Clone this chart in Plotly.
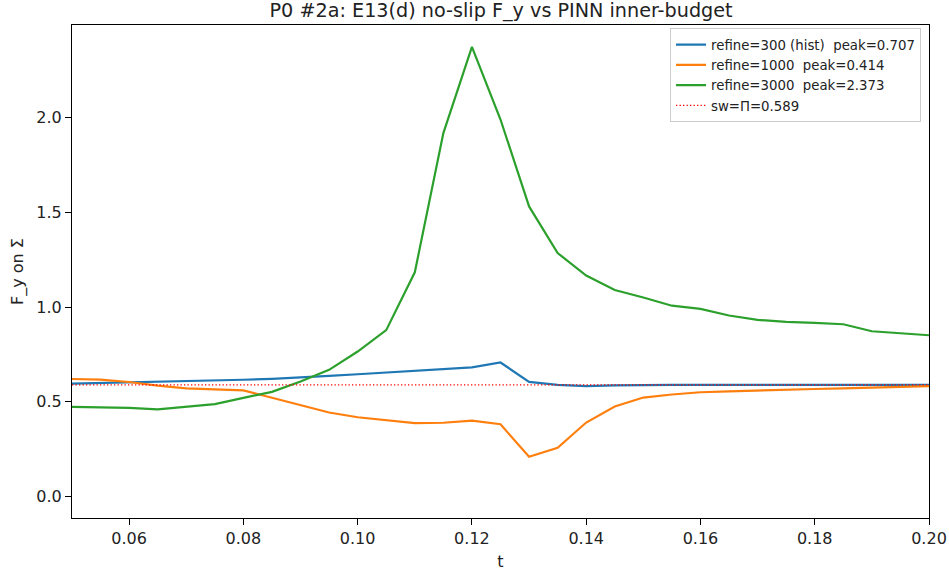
import plotly.graph_objects as go

# Time samples
t = [0.050, 0.055, 0.060, 0.065, 0.070, 0.075, 0.080, 0.085, 0.090, 0.095,
     0.100, 0.105, 0.110, 0.115, 0.120, 0.125, 0.130, 0.135, 0.140, 0.145,
     0.150, 0.155, 0.160, 0.165, 0.170, 0.175, 0.180, 0.185, 0.190, 0.195, 0.200]

# F_y on Sigma for each refinement level
fy_refine300 = [0.595, 0.598, 0.601, 0.605, 0.608, 0.612, 0.616, 0.621, 0.627, 0.636,
                0.645, 0.653, 0.662, 0.671, 0.681, 0.707, 0.605, 0.589, 0.582, 0.586,
                0.589, 0.589, 0.589, 0.589, 0.589, 0.589, 0.589, 0.589, 0.589, 0.589, 0.589]
fy_refine1000 = [0.620, 0.617, 0.604, 0.585, 0.570, 0.564, 0.560, 0.521, 0.481, 0.443,
                 0.418, 0.403, 0.387, 0.389, 0.400, 0.381, 0.209, 0.257, 0.390, 0.475,
                 0.522, 0.538, 0.550, 0.555, 0.560, 0.563, 0.567, 0.570, 0.574, 0.578, 0.582]
fy_refine3000 = [0.473, 0.470, 0.467, 0.460, 0.472, 0.487, 0.520, 0.552, 0.607, 0.668,
                 0.765, 0.878, 1.183, 1.918, 2.373, 1.990, 1.531, 1.285, 1.166, 1.090,
                 1.050, 1.007, 0.990, 0.955, 0.932, 0.921, 0.916, 0.909, 0.872, 0.860, 0.851]
sw_pi = 0.589

series = [
    ("refine=300 (hist)  peak=0.707", fy_refine300, "#1f77b4"),
    ("refine=1000  peak=0.414", fy_refine1000, "#ff7f0e"),
    ("refine=3000  peak=2.373", fy_refine3000, "#2ca02c"),
]

fig = go.Figure()
for name, ys, color in series:
    fig.add_trace(go.Scatter(x=t, y=ys, mode="lines", name=name,
                             line=dict(color=color, width=2.2)))

fig.add_trace(go.Scatter(x=[t[0], t[-1]], y=[sw_pi, sw_pi], mode="lines",
                         name="sw=\u03a0=0.589",
                         line=dict(color="red", width=1.3, dash="1.3px,2.2px")))

font = "DejaVu Sans, sans-serif"
ink = "#222"
axis_common = dict(showline=True, mirror=True, linecolor="black", linewidth=1.2,
                   ticks="outside", ticklen=6, tickwidth=1.2, tickcolor="black",
                   showgrid=False, zeroline=False, automargin=False,
                   tickfont=dict(family=font, size=16, color=ink))

fig.update_layout(
    width=949, height=571,
    paper_bgcolor="white", plot_bgcolor="white",
    margin=dict(l=72, r=20, t=25, b=53),
    title=dict(text="P0 #2a: E13(d) no-slip F_y vs PINN inner-budget",
               x=0.528, xanchor="center", y=0.982, yanchor="middle",
               font=dict(family=font, size=19.2, color=ink)),
    xaxis=dict(range=[0.05, 0.20], tickvals=[0.06, 0.08, 0.10, 0.12, 0.14, 0.16, 0.18, 0.20],
               ticktext=["0.06", "0.08", "0.10", "0.12", "0.14", "0.16", "0.18", "0.20"],
               title=dict(text="t", font=dict(family=font, size=16, color=ink), standoff=9),
               **axis_common),
    yaxis=dict(range=[-0.114, 2.489], tickvals=[0.0, 0.5, 1.0, 1.5, 2.0],
               ticktext=["0.0", "0.5", "1.0", "1.5", "2.0"],
               title=dict(text="F_y on \u03a3", font=dict(family=font, size=16, color=ink), standoff=8),
               **axis_common),
    legend=dict(x=0.9907, xanchor="right", y=0.993, yanchor="top",
                bgcolor="rgba(255,255,255,0.8)", bordercolor="#ccc", borderwidth=1,
                font=dict(family=font, size=13.3, color=ink),
                tracegroupgap=0, itemwidth=30),
    showlegend=True,
)

fig.write_html("out.html")
